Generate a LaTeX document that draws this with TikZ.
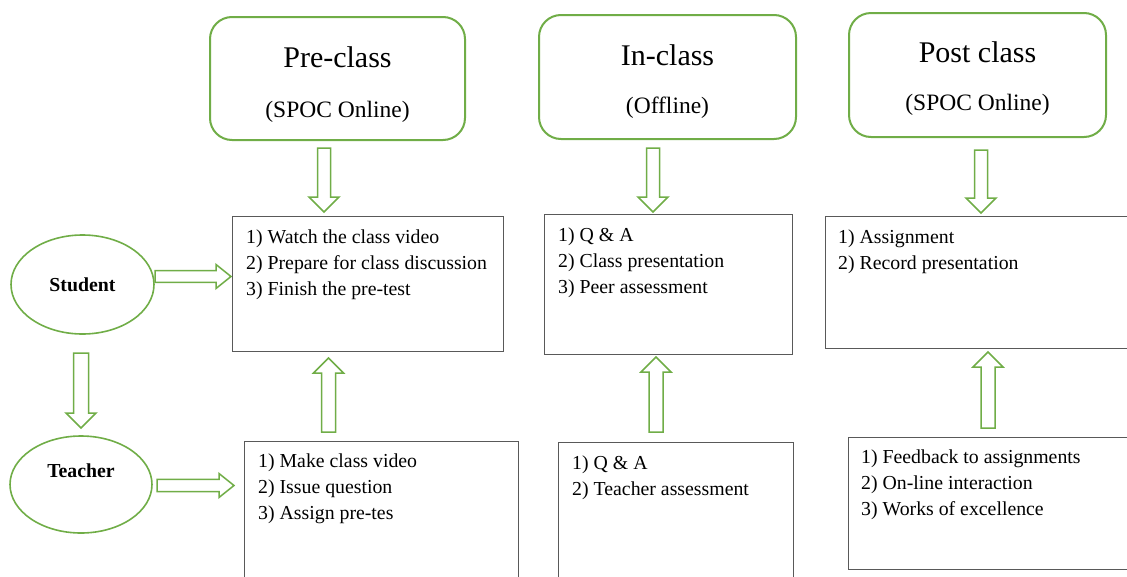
\documentclass[tikz,border=0pt]{standalone}
\usepackage{fontspec}
\setmainfont{Liberation Serif}
\usetikzlibrary{calc,shapes.geometric}
\definecolor{grn}{HTML}{70AD47}
\definecolor{boxgray}{HTML}{595959}
\tikzset{
  phase/.style={draw=grn, line width=2pt, rounded corners=22pt, anchor=north west, inner sep=0pt, fill=white},
  ttl/.style={anchor=base, inner sep=0pt, font=\fontsize{30}{36}\selectfont},
  sub/.style={anchor=base, inner sep=0pt, font=\fontsize{23.5}{28}\selectfont},
  itembox/.style={draw=boxgray, line width=1.2pt, anchor=north west, inner sep=0pt},
  items/.style={anchor=north west, inner sep=0pt, align=left, font=\fontsize{19.8}{26}\selectfont},
  role/.style={ellipse, draw=grn, line width=1.6pt, inner sep=0pt},
  rolelbl/.style={inner sep=0pt, font=\fontsize{19.8}{24}\selectfont\bfseries},
  arr/.style={draw=grn, line width=1.5pt, fill=white, line join=miter}
}
\newcommand\blockarrow[4]{%
  \path let \p1=(#3), \p2=(#4) in \pgfextra{%
    \pgfmathsetmacro\baang{atan2(\y2-\y1,\x2-\x1)}%
    \pgfmathsetmacro\balen{veclen(\x2-\x1,\y2-\y1)}%
    \xdef\baang{\baang}\xdef\balen{\balen}\xdef\bax{\x1}\xdef\bay{\y1}};
  \begin{scope}[shift={(\bax,\bay)},rotate=\baang]
    \draw[arr] (0,-#1) -- (\balen-15,-#1) -- (\balen-15,-#2) -- (\balen,0)
      -- (\balen-15,#2) -- (\balen-15,#1) -- (0,#1) -- cycle;
  \end{scope}}
\newcommand\firstline{\rule{0pt}{15pt}}
\begin{document}
\begin{tikzpicture}[x=1pt,y=-1pt]
\useasboundingbox (0,0) rectangle (1127,576);
\clip (0,0) rectangle (1127,576);

% phase boxes
\node[phase, minimum width=255pt, minimum height=123pt] (pre) at (209,16) {};
\node[phase, minimum width=257pt, minimum height=124pt] (in) at (538,14) {};
\node[phase, minimum width=257pt, minimum height=124pt] (post) at (848,12) {};
\node[ttl] (preT) at ($(pre.north)+(0,51)$) {Pre-class};
\node[sub] (preS) at ($(pre.north)+(0,101)$) {(SPOC Online)};
\node[ttl] (inT) at ($(in.north)+(0,51)$) {In-class};
\node[sub] (inS) at ($(in.north)+(0,99)$) {(Offline)};
\node[ttl] (postT) at ($(post.north)+(0,50)$) {Post class};
\node[sub] (postS) at ($(post.north)+(0,98)$) {(SPOC Online)};

% activity boxes
\node[itembox, minimum width=271pt, minimum height=135pt] (ps) at (232,216) {};
\node[itembox, minimum width=248pt, minimum height=140pt] (is) at (544,214) {};
\node[itembox, minimum width=330pt, minimum height=132pt] (os) at (825,216) {};
\node[itembox, minimum width=274pt, minimum height=170pt] (pt) at (244,441) {};
\node[itembox, minimum width=235pt, minimum height=170pt] (it) at (558,442) {};
\node[itembox, minimum width=310pt, minimum height=132pt] (ot) at (848,437) {};

\node[items] (psT) at ($(ps.north west)+(14,12)$) {\firstline 1) Watch the class video\\2) Prepare for class discussion\\3) Finish the pre-test};
\node[items] (isT) at ($(is.north west)+(14,12)$) {\firstline 1) Q \& A\\2) Class presentation\\3) Peer assessment};
\node[items] (osT) at ($(os.north west)+(13,12)$) {\firstline 1) Assignment\\2) Record presentation};
\node[items] (ptT) at ($(pt.north west)+(14,11)$) {\firstline 1) Make class video\\2) Issue question\\3) Assign pre-tes};
\node[items] (itT) at ($(it.north west)+(14,12)$) {\firstline 1) Q \& A\\2) Teacher assessment};
\node[items] (otT) at ($(ot.north west)+(13,11)$) {\firstline 1) Feedback to assignments\\2) On-line interaction\\3) Works of excellence};

% roles
\node[role, minimum width=143pt, minimum height=99pt] (stu) at (82.5,284.5) {};
\node[rolelbl] (stuL) at (stu.center) {Student};
\node[role, minimum width=142pt, minimum height=97pt] (tea) at (81,484.5) {};
\node[rolelbl] (teaL) at ($(tea.center)+(0,-14)$) {Teacher};

% arrow end points
\coordinate (a1s) at (324,148);   \coordinate (a1e) at (324,212);
\coordinate (a2s) at (653,148);   \coordinate (a2e) at (653,212);
\coordinate (a3s) at (981,150);   \coordinate (a3e) at (981,213);
\coordinate (u1s) at (328.5,432); \coordinate (u1e) at (328.5,358);
\coordinate (u2s) at (656,432);   \coordinate (u2e) at (656,357);
\coordinate (u3s) at (988,428);   \coordinate (u3e) at (988,352);
\coordinate (r1s) at (155,276.5); \coordinate (r1e) at (231,276.5);
\coordinate (r2s) at (157,485.5); \coordinate (r2e) at (234,485.5);
\coordinate (d1s) at (81,353);    \coordinate (d1e) at (81,428);

\blockarrow{6.5}{15}{a1s}{a1e}
\blockarrow{6.5}{15}{a2s}{a2e}
\blockarrow{6.5}{15}{a3s}{a3e}
\blockarrow{7}{15}{u1s}{u1e}
\blockarrow{7}{15}{u2s}{u2e}
\blockarrow{7}{15}{u3s}{u3e}
\blockarrow{5.8}{12}{r1s}{r1e}
\blockarrow{6.2}{12}{r2s}{r2e}
\blockarrow{7.5}{15}{d1s}{d1e}
\end{tikzpicture}
\end{document}
